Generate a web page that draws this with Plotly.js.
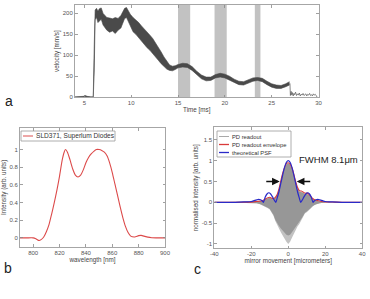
<!DOCTYPE html>
<html>
<head>
<meta charset="utf-8">
<script src="https://cdn.plot.ly/plotly-3.0.1.min.js"></script>
<style>
  html, body { margin: 0; padding: 0; background: #fff; }
  #chart { width: 370px; height: 299px; }
</style>
</head>
<body>
<div id="chart"></div>
<script>
// ---- (a) mirror velocity over time: envelope of the oscillating velocity trace ----
const timeMs = [4.0, 4.6, 4.9, 5.1, 5.3, 5.7, 5.95, 6.05, 6.15, 6.3, 6.45, 6.6, 6.8, 7.0, 7.2, 7.4, 7.7, 8.0, 8.3, 8.6, 8.9, 9.1, 9.3, 9.5, 9.7, 9.9, 10.2, 10.5, 10.8, 11.1, 11.4, 11.7, 12.0, 12.3, 12.6, 12.9, 13.2, 13.5, 13.8, 14.1, 14.4, 14.7, 15.0, 15.5, 16.0, 16.5, 17.0, 17.5, 18.0, 18.5, 19.0, 19.5, 20.0, 20.5, 21.0, 21.5, 22.0, 22.5, 23.0, 23.5, 24.0, 24.5, 25.0, 25.5, 26.0, 26.5, 26.9];
const velocityUpper = [1, 1, 2, 4, 2, 1, 1, 120, 208, 212, 205, 211, 213, 200, 195, 190, 189, 187, 190, 188, 195, 205, 212, 214, 206, 198, 190, 185, 178, 170, 163, 157, 148, 140, 130, 120, 108, 96, 85, 77, 74, 75, 78, 81, 80, 73, 62, 53, 48, 48, 54, 57, 55, 50, 43, 38, 37, 41, 46, 47, 45, 38, 32, 29, 28, 32, 37];
const velocityLower = [-1, -1, 0, 1, 0, -1, -1, 60, 185, 190, 178, 182, 186, 172, 165, 160, 155, 158, 152, 160, 165, 178, 188, 190, 180, 168, 156, 150, 142, 135, 125, 118, 112, 103, 95, 88, 80, 74, 67, 64, 63, 66, 70, 72, 71, 64, 53, 44, 39, 40, 46, 48, 46, 41, 35, 30, 29, 33, 38, 40, 37, 30, 24, 21, 21, 25, 29];
// residual jitter once the mirror has stopped
const restTimeMs = [26.95, 27.0, 27.08, 27.15, 27.22, 27.3, 27.38, 27.45, 27.55, 27.65, 27.75, 27.85, 27.95, 28.05, 28.15, 28.25, 28.35, 28.45, 28.55, 28.65, 28.75, 28.85, 28.95, 29.05, 29.15, 29.25, 29.35, 29.45, 29.55, 29.65, 29.75, 29.85];
const restVelocity = [33, 4, 14, 5, 11, 3, 9, 6, 12, 4, 8, 5, 10, 3, 7, 5, 9, 4, 6, 8, 3, 7, 5, 9, 4, 6, 3, 8, 5, 7, 4, 0];
// acquisition windows (ms)
const windowStart = [15.0, 18.9, 23.2];
const windowEnd = [16.3, 20.2, 23.8];

// ---- (b) source spectrum ----
const wavelengthNm = [790, 795, 800, 802, 804.5, 806, 808, 810, 812, 814, 816, 818, 820, 822, 823.5, 824.5, 826, 828, 830, 832, 834, 836, 838, 840, 842, 844, 846, 848, 850, 852, 854, 856, 858, 860, 862, 864, 866, 868, 870, 872, 874, 877, 880, 882, 884, 887, 890, 895, 900];
const spectrum = [0, 0, 0, -0.01, -0.03, -0.02, 0.01, 0.07, 0.15, 0.27, 0.4, 0.54, 0.7, 0.88, 0.97, 1.0, 0.97, 0.88, 0.78, 0.71, 0.69, 0.71, 0.77, 0.85, 0.91, 0.95, 0.98, 1.0, 1.0, 0.99, 0.97, 0.93, 0.85, 0.74, 0.61, 0.48, 0.35, 0.23, 0.13, 0.06, 0.02, 0.01, 0.025, 0.028, 0.02, 0.008, 0.002, 0, 0];
const sourceName = 'SLD371, Superlum Diodes';

// ---- (c) interferogram ----
const readoutX = [-40, -20, -17, -15, -14, -13, -12, -11, -10, -9, -8, -7, -6, -5, -4, -3, -2, -1, 0, 1, 2, 3, 4, 5, 6, 7, 8, 9, 10, 11, 12, 13, 14, 15, 17, 20, 40];
const readoutTop = [0, 0.005, 0.02, 0.03, 0.04, 0.06, 0.08, 0.1, 0.11, 0.09, 0.08, 0.11, 0.18, 0.32, 0.5, 0.68, 0.82, 0.91, 0.94, 0.9, 0.81, 0.66, 0.48, 0.34, 0.26, 0.25, 0.23, 0.2, 0.2, 0.18, 0.13, 0.09, 0.06, 0.04, 0.02, 0.005, 0];
const readoutBottom = [0, -0.005, -0.02, -0.05, -0.07, -0.09, -0.11, -0.14, -0.17, -0.24, -0.32, -0.45, -0.55, -0.63, -0.72, -0.8, -0.88, -0.95, -1.0, -0.95, -0.85, -0.75, -0.65, -0.58, -0.52, -0.43, -0.35, -0.27, -0.24, -0.2, -0.15, -0.1, -0.07, -0.05, -0.02, -0.005, 0];
const readoutCore = [0, -0.005, -0.02, -0.045, -0.065, -0.085, -0.1, -0.13, -0.16, -0.22, -0.3, -0.42, -0.51, -0.57, -0.63, -0.68, -0.73, -0.78, -0.8, -0.78, -0.72, -0.66, -0.58, -0.53, -0.48, -0.4, -0.33, -0.25, -0.22, -0.19, -0.14, -0.095, -0.065, -0.045, -0.02, -0.005, 0];

const envelopeX = [-40, -30, -20, -17, -15, -14, -13, -12, -11, -10, -9, -8, -7, -6, -5, -4, -3, -2, -1, 0, 1, 2, 3, 4, 5, 6, 7, 8, 9, 10, 11, 12, 13, 14, 15, 16, 18, 20, 25, 30, 40];
const envelope = [0, 0, 0.005, 0.02, 0.03, 0.04, 0.06, 0.09, 0.11, 0.12, 0.1, 0.09, 0.12, 0.19, 0.33, 0.52, 0.7, 0.84, 0.93, 0.95, 0.92, 0.83, 0.68, 0.5, 0.36, 0.28, 0.27, 0.25, 0.22, 0.22, 0.2, 0.15, 0.1, 0.07, 0.05, 0.04, 0.02, 0.01, 0.005, 0, 0];

const psfX = [-40, -30, -24, -22, -20, -18.5, -17, -16, -15, -14, -13.4, -12.5, -11.5, -10.5, -9.5, -8.5, -7.5, -6.7, -6, -5, -4, -3, -2, -1, 0, 1, 2, 3, 4, 5, 6, 6.7, 7.5, 8.5, 9.5, 10.5, 11.5, 12.5, 13.4, 14, 15, 16, 17, 18.5, 20, 22, 24, 30, 40];
const psf = [0, 0, 0.01, 0.01, 0.02, 0.04, 0.06, 0.07, 0.06, 0.03, 0, 0.12, 0.2, 0.23, 0.2, 0.13, 0.05, 0, 0.1, 0.26, 0.46, 0.66, 0.84, 0.96, 1.0, 0.96, 0.84, 0.66, 0.46, 0.26, 0.1, 0, 0.05, 0.13, 0.2, 0.23, 0.2, 0.12, 0, 0.03, 0.06, 0.07, 0.06, 0.04, 0.02, 0.01, 0.01, 0, 0];
const fwhmUm = 8.1;
const seriesNames = ['PD readout', 'PD readout envelope', 'theoretical PSF'];
const seriesColors = ['#a9a9a9', '#d93a3a', '#2a2ac8'];

// ---- page geometry helpers (pixel -> paper fraction) ----
const W = 370, H = 299;
const px = v => v / W;
const py = v => 1 - v / H;
const FONT = 'Liberation Sans, Arial, Helvetica, sans-serif';

function axis(extra) {
  return Object.assign({
    showline: true, linecolor: '#a6a6a6', linewidth: 1, mirror: 'ticks',
    ticks: 'inside', ticklen: 2.5, tickwidth: 0.8, tickcolor: '#888',
    showgrid: false, zeroline: false, automargin: false, fixedrange: true,
    tickfont: { family: FONT, size: 6, color: '#555' }
  }, extra);
}
const axTitle = (text, standoff) => ({ text, standoff, font: { family: FONT, size: 6.3, color: '#444' } });

const traces = [
  // (a)
  { x: timeMs, y: velocityLower, xaxis: 'x', yaxis: 'y', mode: 'lines',
    line: { color: '#4a4a4a', width: 0.6 }, hoverinfo: 'skip' },
  { x: timeMs, y: velocityUpper, xaxis: 'x', yaxis: 'y', mode: 'lines', fill: 'tonexty',
    fillcolor: '#4a4a4a', line: { color: '#4a4a4a', width: 0.6 }, hoverinfo: 'skip' },
  { x: restTimeMs, y: restVelocity, xaxis: 'x', yaxis: 'y', mode: 'lines',
    line: { color: '#555', width: 0.7 }, hoverinfo: 'skip' },
  // (b)
  { x: wavelengthNm, y: spectrum, xaxis: 'x2', yaxis: 'y2', mode: 'lines', name: sourceName,
    line: { color: '#dc4a4a', width: 1.1, shape: 'spline', smoothing: 0.6 } },
  // (c) readout fringes: light outer and darker core
  { x: readoutX, y: readoutTop, xaxis: 'x3', yaxis: 'y3', mode: 'lines', line: { width: 0, color: '#c0c0c0' }, hoverinfo: 'skip' },
  { x: readoutX, y: readoutBottom, xaxis: 'x3', yaxis: 'y3', mode: 'lines', fill: 'tonexty',
    fillcolor: '#c2c2c2', line: { width: 0, color: '#c2c2c2' }, hoverinfo: 'skip' },
  { x: readoutX, y: readoutTop, xaxis: 'x3', yaxis: 'y3', mode: 'lines', line: { width: 0, color: '#999' }, hoverinfo: 'skip' },
  { x: readoutX, y: readoutCore, xaxis: 'x3', yaxis: 'y3', mode: 'lines', fill: 'tonexty', name: seriesNames[0],
    fillcolor: '#979797', line: { width: 0, color: '#979797' } },
  { x: envelopeX, y: envelope, xaxis: 'x3', yaxis: 'y3', mode: 'lines', name: seriesNames[1],
    line: { color: seriesColors[1], width: 1.1, shape: 'spline', smoothing: 0.6 } },
  { x: psfX, y: psf, xaxis: 'x3', yaxis: 'y3', mode: 'lines', name: seriesNames[2],
    line: { color: seriesColors[2], width: 1.2, shape: 'spline', smoothing: 0.6 } }
];

const shapes = [];
windowStart.forEach((s, i) => {
  shapes.push({ type: 'rect', xref: 'x', yref: 'y domain', x0: s, x1: windowEnd[i], y0: 0, y1: 1,
    fillcolor: '#c2c2c2', line: { width: 0 }, layer: 'below' });
});

const annotations = [];
// legend boxes
function legendBox(x0, x1, y0, y1) {
  shapes.push({ type: 'rect', xref: 'paper', yref: 'paper', x0: px(x0), x1: px(x1), y0: py(y1), y1: py(y0),
    fillcolor: '#fff', line: { color: '#9a9a9a', width: 0.8 }, layer: 'above' });
}
function legendEntry(xl, yc, color, width, text, size, len) {
  shapes.push({ type: 'line', xref: 'paper', yref: 'paper', x0: px(xl), x1: px(xl + len), y0: py(yc), y1: py(yc),
    line: { color, width }, layer: 'above' });
  annotations.push({ xref: 'paper', yref: 'paper', x: px(xl + len + 1), y: py(yc), xanchor: 'left', yanchor: 'middle',
    text, showarrow: false, font: { family: FONT, size, color: '#333' } });
}
legendBox(21, 115, 131, 141);
legendEntry(23, 136, '#e06060', 1.1, sourceName, 6.6, 10);
legendBox(217, 291, 131, 157);
legendEntry(219, 136.5, seriesColors[0], 1, seriesNames[0], 5.8, 10);
legendEntry(219, 144.5, seriesColors[1], 1.3, seriesNames[1], 5.8, 10);
legendEntry(219, 152.5, seriesColors[2], 1.3, seriesNames[2], 5.8, 10);

// panel letters
[['a', 9, 101], ['b', 8, 268], ['c', 197, 269]].forEach(([t, x, y]) => {
  annotations.push({ xref: 'paper', yref: 'paper', x: px(x), y: py(y), xanchor: 'center', yanchor: 'middle',
    text: t, showarrow: false, font: { family: FONT, size: 14, color: '#222' } });
});

// FWHM marker
annotations.push({ xref: 'x3', yref: 'y3', x: 22, y: 1.03, text: 'FWHM ' + fwhmUm + 'μm', showarrow: false,
  xanchor: 'center', yanchor: 'middle', font: { family: FONT, size: 9.5, color: '#222' } });
[-1, 1].forEach(side => {
  annotations.push({ xref: 'x3', yref: 'y3', x: side * fwhmUm / 2, y: 0.5, ax: side * 16, ay: 0,
    showarrow: true, arrowhead: 2, arrowsize: 1.1, arrowwidth: 1.4, arrowcolor: '#111', standoff: 1, text: '' });
});

const minusTicks = vals => vals.map(v => String(v).replace('−', '-'));
const cY = [-1, -0.5, 0, 0.5, 1, 1.5];
const cX = [-40, -20, 0, 20, 40];

const layout = {
  width: W, height: H, margin: { l: 0, r: 0, t: 0, b: 0 },
  paper_bgcolor: '#fff', plot_bgcolor: '#fff', showlegend: false,
  font: { family: FONT, size: 6, color: '#444' },
  xaxis: axis({ domain: [px(75), px(318.5)], range: [4, 30], anchor: 'y', tickvals: [5, 10, 15, 20, 25, 30],
    title: axTitle('Time [ms]', 2) }),
  yaxis: axis({ domain: [py(97.2), py(5)], range: [0, 220], anchor: 'x', tickvals: [0, 50, 100, 150, 200],
    title: axTitle('velocity [mm/s]', 2) }),
  xaxis2: axis({ domain: [px(20), px(165)], range: [790, 900], anchor: 'y2', tickvals: [800, 820, 840, 860, 880, 900],
    title: axTitle('wavelength [nm]', 1) }),
  yaxis2: axis({ domain: [py(246.7), py(128)], range: [-0.1, 1.244], anchor: 'x2', tickvals: [0, 0.2, 0.4, 0.6, 0.8, 1],
    title: axTitle('Intensity (arb. units)', 2) }),
  xaxis3: axis({ domain: [px(214.3), px(362.2)], range: [-40, 40], anchor: 'y3', tickvals: cX, ticktext: minusTicks(cX),
    title: axTitle('mirror movement [micrometers]', 1) }),
  yaxis3: axis({ domain: [py(248.1), py(127.4)], range: [-1.1, 1.8], anchor: 'x3', tickvals: cY, ticktext: minusTicks(cY),
    title: axTitle('normalised intensity [arb. units]', 2) }),
  shapes, annotations
};

Plotly.newPlot('chart', traces, layout, { staticPlot: true, displayModeBar: false });
</script>
</body>
</html>
